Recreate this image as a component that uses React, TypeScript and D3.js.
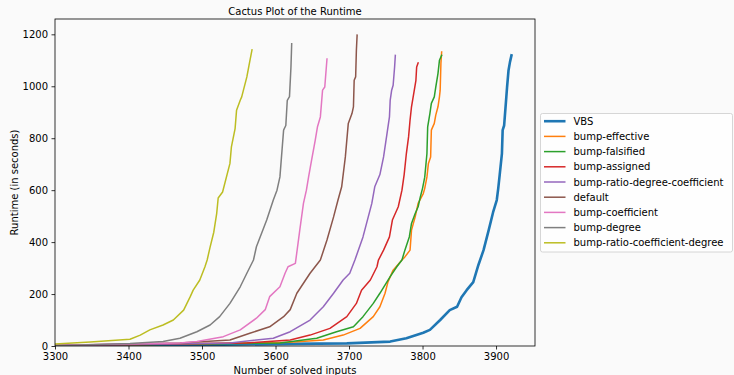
import React, { useEffect, useRef } from "react";
import * as d3 from "d3";

// Dimensions
const W = 734;
const H = 375;
const margin = { top: 19, right: 199, bottom: 29, left: 55 };

// Axis ticks
const xTicks = [3300, 3400, 3500, 3600, 3700, 3800, 3900];
const yTicks = [0, 200, 400, 600, 800, 1000, 1200];

// Series: [number of solved inputs, runtime in seconds]
const vbs = [
  [3300, 1], [3497, 4], [3620, 8], [3697, 10], [3756, 17], [3778, 30], [3801, 51],
  [3810, 62], [3824, 100], [3837, 138], [3847, 151], [3853, 188], [3860, 215],
  [3869, 246], [3876, 312], [3883, 369], [3890, 446], [3896, 515], [3901, 562],
  [3903, 607], [3905, 660], [3908, 741], [3909, 831], [3911, 849], [3914, 959],
  [3915, 997], [3917, 1062], [3919, 1094], [3921, 1119],
];
const bumpEffective = [
  [3300, 0.5], [3620, 14], [3665, 23], [3692, 42], [3715, 68], [3733, 113], [3742, 151],
  [3749, 203], [3753, 247], [3760, 292], [3772, 331], [3776, 343], [3783, 369],
  [3785, 446], [3790, 497], [3794, 549], [3801, 587], [3803, 607], [3806, 651],
  [3808, 703], [3811, 728], [3812, 831], [3816, 857], [3818, 889], [3821, 921],
  [3823, 959], [3824, 985], [3825, 1088], [3826, 1132],
];
const bumpFalsified = [
  [3300, 0.5], [3606, 12], [3656, 30], [3683, 55], [3706, 74], [3719, 113], [3733, 164],
  [3742, 203], [3756, 267], [3765, 305], [3772, 331], [3776, 369], [3782, 420],
  [3785, 472], [3790, 510], [3794, 536], [3797, 574], [3800, 607], [3803, 650],
  [3806, 741], [3807, 844], [3810, 895], [3812, 934], [3816, 959], [3818, 997],
  [3821, 1049], [3823, 1100], [3826, 1119],
];
const bumpAssigned = [
  [3300, 1], [3561, 12], [3620, 23], [3647, 42], [3674, 68], [3697, 113], [3710, 164],
  [3717, 215], [3729, 254], [3738, 305], [3740, 331], [3747, 369], [3755, 420],
  [3759, 485], [3767, 536], [3772, 600], [3775, 660], [3778, 741], [3781, 805],
  [3783, 869], [3785, 921], [3788, 972], [3791, 1023], [3792, 1074], [3794, 1090],
];
const bumpRatioDegCoef = [
  [3300, 1], [3538, 12], [3597, 30], [3620, 55], [3647, 100], [3665, 151], [3679, 203],
  [3692, 254], [3701, 280], [3708, 331], [3719, 420], [3731, 549], [3735, 613],
  [3742, 660], [3747, 728], [3751, 805], [3755, 882], [3756, 946], [3758, 985],
  [3760, 1004], [3762, 1074], [3763, 1119],
];
const defaultRun = [
  [3300, 2], [3470, 12], [3538, 23], [3565, 49], [3592, 74], [3611, 113], [3620, 140],
  [3629, 203], [3647, 280], [3661, 331], [3670, 408], [3679, 497], [3685, 562],
  [3690, 613], [3695, 728], [3699, 857], [3704, 895], [3706, 921], [3707, 1023],
  [3709, 1036], [3710, 1138], [3711, 1197],
];
const bumpCoefficient = [
  [3300, 3], [3470, 12], [3493, 17], [3529, 36], [3552, 62], [3574, 107], [3586, 140],
  [3592, 190], [3606, 228], [3613, 280], [3617, 305], [3627, 318], [3633, 446],
  [3638, 549], [3642, 600], [3645, 651], [3649, 715], [3654, 792], [3657, 843],
  [3661, 882], [3664, 985], [3667, 997], [3670, 1105],
];
const bumpDegree = [
  [3300, 1], [3402, 10], [3447, 17], [3470, 30], [3493, 55], [3511, 81], [3524, 113],
  [3538, 164], [3552, 228], [3561, 280], [3570, 331], [3574, 382], [3588, 485],
  [3597, 562], [3602, 600], [3606, 651], [3609, 760], [3611, 831], [3614, 849],
  [3616, 946], [3619, 960], [3621, 1074], [3622, 1164],
];
const bumpRatioCoefDeg = [
  [3300, 8], [3348, 15], [3402, 26], [3416, 42], [3429, 62], [3447, 81], [3461, 100],
  [3475, 138], [3484, 190], [3488, 215], [3497, 254], [3504, 305], [3507, 331],
  [3511, 381], [3516, 438], [3520, 511], [3522, 570], [3528, 593], [3538, 703],
  [3540, 767], [3545, 837], [3547, 908], [3552, 946], [3554, 959], [3561, 1036],
  [3564, 1081], [3568, 1140],
];

const seriesNames = [
  "VBS",
  "bump-effective",
  "bump-falsified",
  "bump-assigned",
  "bump-ratio-degree-coefficient",
  "default",
  "bump-coefficient",
  "bump-degree",
  "bump-ratio-coefficient-degree",
];
const seriesData = [
  vbs, bumpEffective, bumpFalsified, bumpAssigned, bumpRatioDegCoef,
  defaultRun, bumpCoefficient, bumpDegree, bumpRatioCoefDeg,
];
const colours = [
  "#1f77b4", "#ff7f0e", "#2ca02c", "#d62728", "#9467bd",
  "#8c564b", "#e377c2", "#7f7f7f", "#bcbd22",
];

const FONT = "DejaVu Sans, sans-serif";

const App = () => {
  const ref = useRef<SVGSVGElement>(null);

  useEffect(() => {
    if (!ref.current) return;
    const root = d3.select(ref.current);
    root.selectAll("*").remove();

    const x = d3.scaleLinear().domain([3300, 3953]).range([margin.left, W - margin.right]);
    const y = d3.scaleLinear().domain([0, 1259]).range([H - margin.bottom, margin.top]);

    root.append("rect").attr("width", W).attr("height", H).attr("fill", "#fafafa");

    root
      .append("clipPath")
      .attr("id", "plot-clip")
      .append("rect")
      .attr("x", margin.left)
      .attr("y", margin.top)
      .attr("width", W - margin.left - margin.right)
      .attr("height", H - margin.top - margin.bottom);

    // Lines
    const line = d3
      .line<number[]>()
      .x((d) => x(d[0]))
      .y((d) => y(d[1]));

    const lines = root.append("g").attr("clip-path", "url(#plot-clip)");
    seriesData.forEach((s, i) => {
      lines
        .append("path")
        .attr("d", line(s))
        .attr("fill", "none")
        .attr("stroke", colours[i])
        .attr("stroke-width", i === 0 ? 2.6 : 1.5)
        .attr("stroke-linejoin", "round")
        .attr("stroke-linecap", "square");
    });

    // Axes
    const xAxis = root
      .append("g")
      .attr("transform", `translate(0, ${H - margin.bottom})`)
      .call(
        d3.axisBottom(x).tickValues(xTicks).tickFormat(d3.format("d")).tickSize(3.5).tickPadding(3.5)
      );
    const yAxis = root
      .append("g")
      .attr("transform", `translate(${margin.left}, 0)`)
      .call(
        d3.axisLeft(y).tickValues(yTicks).tickFormat(d3.format("d")).tickSize(3.5).tickPadding(3.5)
      );
    [xAxis, yAxis].forEach((a) => {
      a.select(".domain").remove();
      a.selectAll("line").attr("stroke", "#000").attr("stroke-width", 0.8);
      a.selectAll("text").attr("font-family", FONT).attr("font-size", 10).attr("fill", "#000");
    });

    // Spines
    root
      .append("rect")
      .attr("x", margin.left)
      .attr("y", margin.top)
      .attr("width", W - margin.left - margin.right)
      .attr("height", H - margin.top - margin.bottom)
      .attr("fill", "none")
      .attr("stroke", "#000")
      .attr("stroke-width", 0.8);

    const cx = (margin.left + W - margin.right) / 2;

    // Title + labels
    root
      .append("text")
      .attr("x", cx)
      .attr("y", 14.5)
      .attr("text-anchor", "middle")
      .attr("font-family", FONT)
      .attr("font-size", 10)
      .text("Cactus Plot of the Runtime");
    root
      .append("text")
      .attr("x", cx)
      .attr("y", 374)
      .attr("text-anchor", "middle")
      .attr("font-family", FONT)
      .attr("font-size", 10)
      .text("Number of solved inputs");
    root
      .append("text")
      .attr("transform", `translate(17.5, ${(margin.top + H - margin.bottom) / 2}) rotate(-90)`)
      .attr("text-anchor", "middle")
      .attr("font-family", FONT)
      .attr("font-size", 10)
      .text("Runtime (in seconds)");

    // Legend
    const legend = root.append("g");
    legend
      .append("rect")
      .attr("x", 540.5)
      .attr("y", 113.5)
      .attr("width", 192)
      .attr("height", 138.5)
      .attr("rx", 2)
      .attr("fill", "#fff")
      .attr("fill-opacity", 0.8)
      .attr("stroke", "#cccccc")
      .attr("stroke-width", 0.8);
    seriesNames.forEach((name, i) => {
      const ly = 121.2 + i * 15.2;
      legend
        .append("line")
        .attr("x1", 544)
        .attr("x2", 565.5)
        .attr("y1", ly)
        .attr("y2", ly)
        .attr("stroke", colours[i])
        .attr("stroke-width", i === 0 ? 2.6 : 1.5);
      legend
        .append("text")
        .attr("x", 573.5)
        .attr("y", ly)
        .attr("dy", "0.35em")
        .attr("font-family", FONT)
        .attr("font-size", 10)
        .text(name);
    });
  }, []);

  return (
    <svg
      ref={ref}
      width={W}
      height={H}
      style={{ position: "absolute", left: 0, top: 0, display: "block" }}
    />
  );
};

export default App;
